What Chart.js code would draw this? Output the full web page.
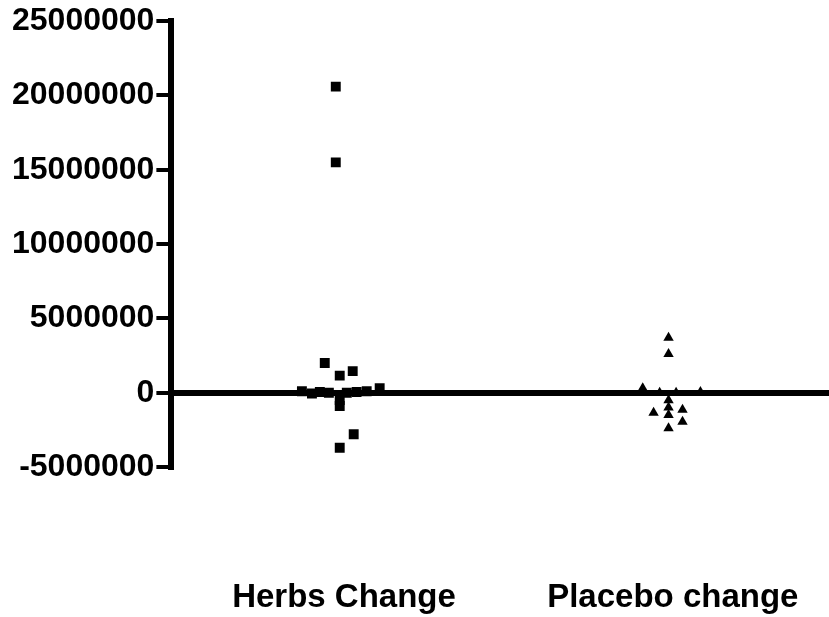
<!DOCTYPE html>
<html>
<head>
<meta charset="utf-8">
<script src="https://cdn.jsdelivr.net/npm/chart.js@4"></script>
<style>
  html, body { margin: 0; padding: 0; background: #fff; overflow: hidden; }
  canvas { display: block; }
</style>
</head>
<body>
<canvas id="changeChart" width="829" height="617"></canvas>
<script>
// Group labels and where they sit on the x scale
const groupLabels = ['Herbs Change', 'Placebo change'];
const groupPos = [1.05, 3.05];

// Herbs group (squares): horizontal spread and change values
const herbsX = [1.0, 1.0, 0.933, 1.024, 1.103, 0.794, 0.855, 0.903, 0.958, 1.024, 1.024, 1.067, 1.127, 1.188, 1.267, 1.109, 1.024];
const herbsY = [20600000, 15500000, 2000000, 1150000, 1450000, 100000, -50000, 50000, 0, -500000, -900000, 0, 50000, 100000, 300000, -2800000, -3700000];

// Placebo group (triangles)
const placeboX = [3.024, 3.024, 2.867, 2.933, 3.024, 3.024, 3.024, 3.109, 3.109, 3.024, 3.218, 2.97, 3.07];
const placeboY = [3700000, 2600000, 300000, -1350000, -500000, -1000000, -1500000, -1150000, -1950000, -2400000, 50000, 0, 0];

// Y axis
const yMin = -5000000;
const yMax = 25000000;
const yStep = 5000000;

const FONT = "'Liberation Sans', Arial, sans-serif";

const toPoints = (xs, ys) => xs.map((x, i) => ({ x: x, y: ys[i] }));

// group names written well below the plot, centred on each group
const groupLabelPlugin = {
  id: 'groupLabels',
  afterDraw(chart) {
    const c = chart.ctx;
    const xs = chart.scales.x;
    c.save();
    c.fillStyle = '#000';
    c.font = 'bold 33px ' + FONT;
    c.textAlign = 'center';
    c.textBaseline = 'alphabetic';
    groupLabels.forEach((t, i) => {
      c.fillText(t, xs.getPixelForValue(groupPos[i]), 607);
    });
    c.restore();
  }
};

const ctx = document.getElementById('changeChart').getContext('2d');
new Chart(ctx, {
  type: 'scatter',
  data: {
    datasets: [
      {
        label: groupLabels[0],
        data: toPoints(herbsX, herbsY),
        pointStyle: 'rect',
        pointRadius: 7,
        backgroundColor: '#000',
        borderColor: '#000',
        borderWidth: 0
      },
      {
        label: groupLabels[1],
        data: toPoints(placeboX, placeboY),
        pointStyle: 'triangle',
        pointRadius: 6,
        backgroundColor: '#000',
        borderColor: '#000',
        borderWidth: 0
      }
    ]
  },
  options: {
    responsive: false,
    devicePixelRatio: 1,
    animation: false,
    layout: { autoPadding: false, padding: { top: 4, left: 10, right: 0, bottom: 150 } },
    plugins: {
      legend: { display: false },
      tooltip: { enabled: false }
    },
    scales: {
      x: {
        type: 'linear',
        display: false,
        min: 0,
        max: 4
      },
      y: {
        min: yMin,
        max: yMax,
        grid: {
          color: (c) => c.tick && c.tick.value === 0 ? '#000' : 'rgba(0,0,0,0)',
          lineWidth: 6,
          tickColor: '#000',
          tickWidth: 4,
          tickLength: 15
        },
        border: { display: true, color: '#000', width: 6 },
        ticks: {
          stepSize: yStep,
          padding: 2,
          color: '#000',
          font: { family: FONT, size: 32, weight: 'bold' },
          callback: (v) => String(v)
        }
      }
    }
  },
  plugins: [groupLabelPlugin]
});
</script>
</body>
</html>
